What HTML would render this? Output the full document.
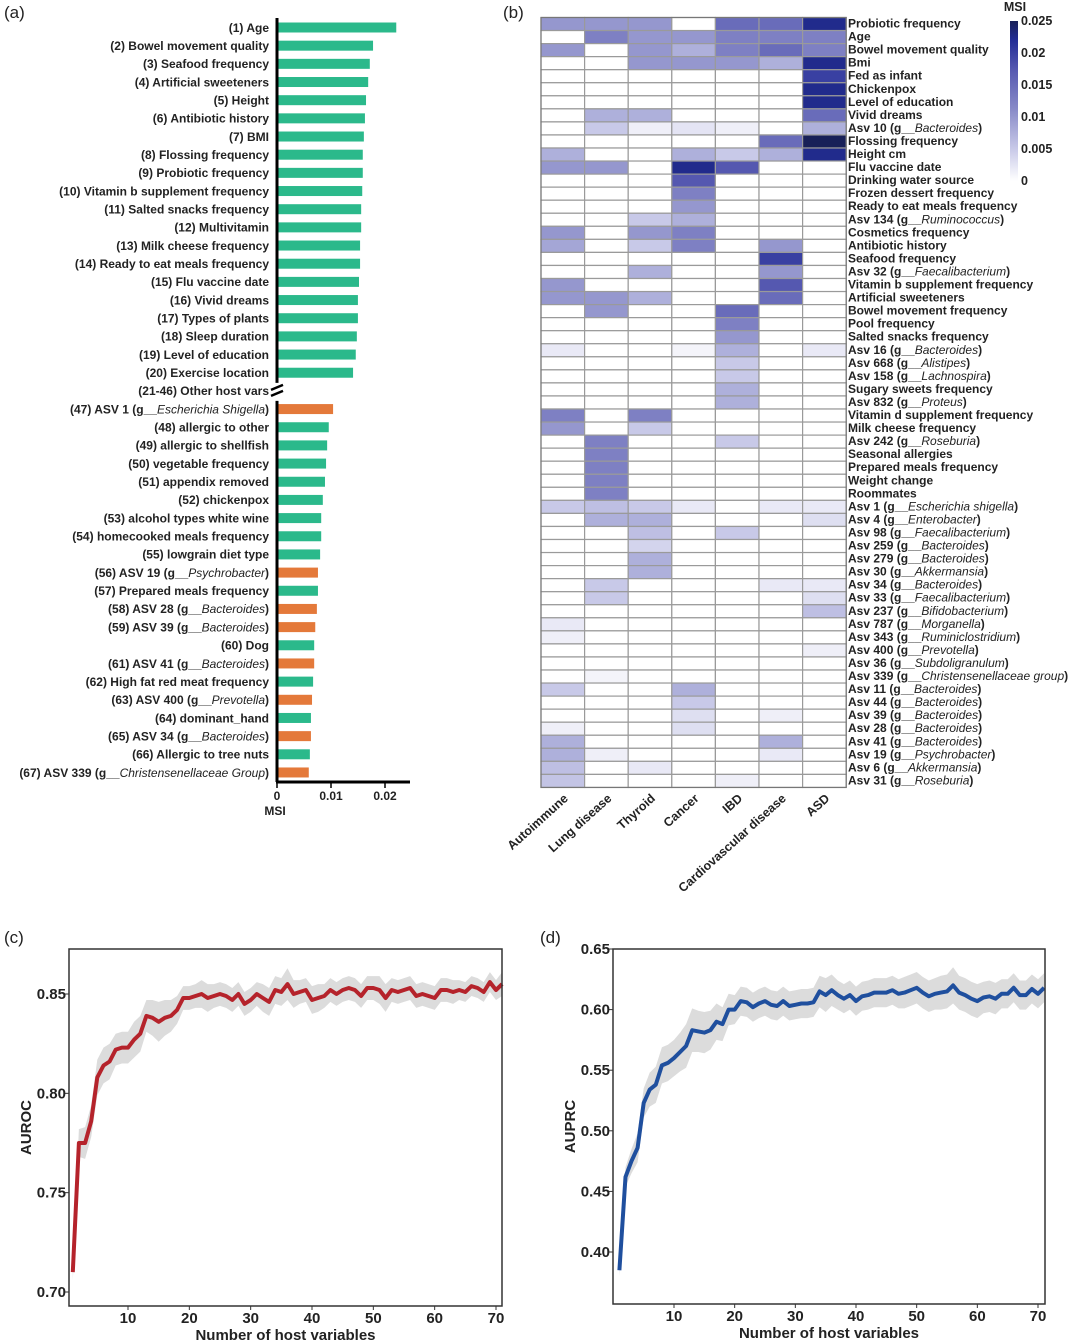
<!DOCTYPE html>
<html><head><meta charset="utf-8">
<style>
html,body{margin:0;padding:0;background:#fff;}
svg{display:block;font-family:"Liberation Sans",sans-serif;}
.lab{font-size:12px;font-weight:bold;fill:#222;}
.hl{font-size:12px;font-weight:bold;fill:#222;}
.cl{font-size:12.5px;font-weight:bold;fill:#222;}
.it{font-style:italic;font-weight:normal;}
.tk{font-size:15px;font-weight:bold;fill:#222;}
.pl{font-size:17px;fill:#222;}
</style></head>
<body>
<svg id="fig" width="1080" height="1341" viewBox="0 0 1080 1341" xmlns="http://www.w3.org/2000/svg">
<text class="pl" x="4" y="18">(a)</text>
<text class="pl" x="503" y="18">(b)</text>
<text class="pl" x="4" y="943">(c)</text>
<text class="pl" x="540" y="943">(d)</text>
<g id="pa"></g>
<g id="pb"></g>
<g id="pc"></g>
<g id="pd"></g>
</svg>
<script>
// ---------- Panel A data ----------
const barLabels = ["(1) Age","(2) Bowel movement quality","(3) Seafood frequency","(4) Artificial sweeteners","(5) Height","(6) Antibiotic history","(7) BMI","(8) Flossing frequency","(9) Probiotic frequency","(10) Vitamin b supplement frequency","(11) Salted snacks frequency","(12) Multivitamin","(13) Milk cheese frequency","(14) Ready to eat meals frequency","(15) Flu vaccine date","(16) Vivid dreams","(17) Types of plants","(18) Sleep duration","(19) Level of education","(20) Exercise location","(21-46) Other host vars","(47) ASV 1 (g__|Escherichia Shigella|)","(48) allergic to other","(49) allergic to shellfish","(50) vegetable frequency","(51) appendix removed","(52) chickenpox","(53) alcohol types white wine","(54) homecooked meals frequency","(55) lowgrain diet type","(56) ASV 19 (g__|Psychrobacter|)","(57) Prepared meals frequency","(58) ASV 28 (g__|Bacteroides|)","(59) ASV 39 (g__|Bacteroides|)","(60) Dog","(61) ASV 41 (g__|Bacteroides|)","(62) High fat red meat frequency","(63) ASV 400 (g__|Prevotella|)","(64) dominant_hand","(65) ASV 34 (g__|Bacteroides|)","(66) Allergic to tree nuts","(67) ASV 339 (g__|Christensenellaceae Group|)"];
const barValues = [0.0219,0.0176,0.0170,0.0167,0.0163,0.0161,0.0159,0.0157,0.0157,0.0156,0.0154,0.0154,0.0152,0.0152,0.0150,0.0148,0.0148,0.0146,0.0144,0.0139,null,0.0102,0.0094,0.0091,0.0089,0.0087,0.0083,0.0080,0.0080,0.0078,0.0074,0.0074,0.0072,0.0069,0.0067,0.0067,0.0065,0.0063,0.0061,0.0061,0.0059,0.0057];
const barTypes = ["h","h","h","h","h","h","h","h","h","h","h","h","h","h","h","h","h","h","h","h","x","m","h","h","h","h","h","h","h","h","m","h","m","m","h","m","h","m","h","m","h","m"];
const barTicks = [0,0.01,0.02];
const barTickLabels = ["0","0.01","0.02"];

// ---------- Panel B data ----------
const hmCols = ["Autoimmune","Lung disease","Thyroid","Cancer","IBD","Cardiovascular disease","ASD"];
const hmRows = ["Probiotic frequency","Age","Bowel movement quality","Bmi","Fed as infant","Chickenpox","Level of education","Vivid dreams","Asv 10 (g__|Bacteroides|)","Flossing frequency","Height cm","Flu vaccine date","Drinking water source","Frozen dessert frequency","Ready to eat meals frequency","Asv 134 (g__|Ruminococcus|)","Cosmetics frequency","Antibiotic history","Seafood frequency","Asv 32 (g__|Faecalibacterium|)","Vitamin b supplement frequency","Artificial sweeteners","Bowel movement frequency","Pool frequency","Salted snacks frequency","Asv 16 (g__|Bacteroides|)","Asv 668 (g__|Alistipes|)","Asv 158 (g__|Lachnospira|)","Sugary sweets frequency","Asv 832 (g__|Proteus|)","Vitamin d supplement frequency","Milk cheese frequency","Asv 242 (g__|Roseburia|)","Seasonal allergies","Prepared meals frequency","Weight change","Roommates","Asv 1 (g__|Escherichia shigella|)","Asv 4 (g__|Enterobacter|)","Asv 98 (g__|Faecalibacterium|)","Asv 259 (g__|Bacteroides|)","Asv 279 (g__|Bacteroides|)","Asv 30 (g__|Akkermansia|)","Asv 34 (g__|Bacteroides|)","Asv 33 (g__|Faecalibacterium|)","Asv 237 (g__|Bifidobacterium|)","Asv 787 (g__|Morganella|)","Asv 343 (g__|Ruminiclostridium|)","Asv 400 (g__|Prevotella|)","Asv 36 (g__|Subdoligranulum|)","Asv 339 (g__|Christensenellaceae group|)","Asv 11 (g__|Bacteroides|)","Asv 44 (g__|Bacteroides|)","Asv 39 (g__|Bacteroides|)","Asv 28 (g__|Bacteroides|)","Asv 41 (g__|Bacteroides|)","Asv 19 (g__|Psychrobacter|)","Asv 6 (g__|Akkermansia|)","Asv 31 (g__|Roseburia|)"];
const hmValues = [
[.010,.010,.010,0,.015,.015,.0225],[0,.0125,.010,.010,.0125,.0125,.0125],[.010,0,.010,.0075,.0125,.015,.0125],[0,0,.010,.010,.010,.0075,.0225],
[0,0,0,0,0,0,.020],[0,0,0,0,0,0,.0225],[0,0,0,0,0,0,.0225],[0,.0075,.0075,0,0,0,.015],[0,.005,.0015,.0025,.0015,0,.0075],
[0,0,0,0,0,.015,.025],[.0075,0,0,.0075,.005,.0075,.0225],[.010,.010,0,.0225,.0175,0,0],[0,0,0,.0175,0,0,0],[0,0,0,.0125,0,0,0],
[0,0,0,.010,0,0,0],[0,0,.005,.0075,0,0,0],[.010,0,.010,.0125,0,0,0],[.0085,0,.005,.0125,0,.010,0],[0,0,0,0,0,.020,0],
[0,0,.0075,0,0,.010,0],[.010,0,0,0,0,.0175,0],[.010,.010,.0075,0,0,.015,0],[0,.010,0,0,.015,0,0],[0,0,0,0,.0125,0,0],
[0,0,0,0,.010,0,0],[.002,0,0,.001,.0075,0,.002],[0,0,0,0,.005,0,0],[0,0,0,0,.005,0,0],[0,0,0,0,.0075,0,0],[0,0,0,0,.0075,0,0],
[.0125,0,.0125,0,0,0,0],[.010,0,.005,0,0,0,0],[0,.0125,0,0,.005,0,0],[0,.0125,0,0,0,0,0],[0,.0125,0,0,0,0,0],[0,.0125,0,0,0,0,0],[0,.0125,0,0,0,0,0],
[.005,.006,.005,.002,0,.002,.002],[0,.0075,.0075,0,0,0,.003],[0,0,.006,0,.005,0,0],[0,0,.004,0,0,0,0],[0,0,.0075,0,0,0,0],[0,0,.0075,0,0,0,0],
[0,.005,0,0,0,.002,.002],[0,.005,0,0,0,0,.003],[0,0,0,0,0,0,.006],[.002,0,0,0,0,0,0],[.0015,0,0,0,0,0,0],[0,0,0,0,0,0,.0015],
[0,0,0,0,0,0,0],[0,.001,0,0,0,0,0],[.005,0,0,.0075,0,0,0],[0,0,0,.005,0,0,0],[0,0,0,.003,0,.0015,0],[.0015,0,0,.003,0,0,0],
[.0075,0,0,0,0,.0075,0],[.0075,.0015,0,0,0,.002,0],[.006,0,.002,0,0,0,0],[.0055,0,0,0,.0015,0,0]];
const cbTicks = [0,0.005,0.01,0.015,0.02,0.025];
const cbTickLabels = ["0","0.005","0.01","0.015","0.02","0.025"];

// ---------- Panel C / D data ----------
const nVars = Array.from({length:71},(_,i)=>i+1);
const aurocMean = [.710,.775,.775,.786,.808,.814,.816,.822,.823,.823,.827,.830,.839,.838,.836,.838,.839,.842,.848,.848,.849,.850,.848,.849,.850,.849,.847,.850,.845,.847,.850,.848,.846,.852,.851,.855,.850,.851,.852,.847,.848,.849,.852,.850,.852,.853,.852,.849,.853,.853,.852,.848,.852,.851,.852,.853,.849,.850,.849,.848,.852,.852,.851,.852,.851,.854,.853,.851,.856,.852,.855];
const aurocSd = [.004,.007,.008,.008,.009,.009,.009,.008,.008,.008,.009,.009,.008,.009,.010,.009,.008,.007,.006,.006,.006,.007,.007,.006,.006,.006,.006,.006,.006,.006,.006,.007,.007,.007,.007,.008,.007,.006,.006,.007,.007,.006,.006,.006,.006,.006,.006,.006,.006,.006,.007,.007,.006,.006,.006,.006,.006,.006,.006,.006,.006,.006,.006,.005,.005,.005,.005,.005,.005,.005,.006];
const aurocTicks = [0.70,0.75,0.80,0.85];
const aurocTickLabels = ["0.70","0.75","0.80","0.85"];
const auprcMean = [.385,.462,.475,.486,.523,.534,.538,.554,.556,.560,.565,.570,.583,.582,.581,.583,.590,.588,.600,.600,.607,.606,.602,.605,.607,.604,.603,.607,.603,.604,.605,.605,.606,.615,.612,.616,.612,.609,.612,.607,.611,.612,.614,.614,.614,.616,.613,.614,.616,.618,.614,.611,.613,.614,.615,.620,.614,.612,.609,.607,.610,.611,.609,.613,.613,.618,.612,.612,.617,.613,.618];
const auprcSd = [.005,.008,.010,.012,.012,.014,.015,.015,.015,.015,.016,.018,.018,.017,.017,.016,.015,.014,.013,.012,.012,.012,.012,.012,.012,.012,.012,.012,.012,.012,.012,.012,.012,.013,.014,.013,.012,.012,.012,.012,.012,.012,.012,.012,.012,.012,.012,.013,.013,.013,.013,.013,.013,.014,.014,.015,.014,.014,.014,.014,.013,.013,.013,.012,.012,.012,.012,.012,.012,.012,.012];
const auprcTicks = [0.40,0.45,0.50,0.55,0.60,0.65];
const auprcTickLabels = ["0.40","0.45","0.50","0.55","0.60","0.65"];
const xTicks = [10,20,30,40,50,60,70];
const xTickLabels = ["10","20","30","40","50","60","70"];

const NS="http://www.w3.org/2000/svg";
function mk(parent,tag,attrs){const e=document.createElementNS(NS,tag);for(const k in attrs)e.setAttribute(k,attrs[k]);parent.appendChild(e);return e;}
function richText(el,str){
  const parts=str.split("|");
  parts.forEach((p,i)=>{const t=document.createElementNS(NS,"tspan");t.textContent=p;if(i%2===1)t.setAttribute("class","it");el.appendChild(t);});
}

// ---------- Panel A ----------
(function(){
  const g=document.getElementById("pa");
  const x0=278, pxPer=5400, y0=27.5, step=18.17;
  const xs=v=>x0+v*pxPer, ys=i=>y0+i*step;
  barLabels.forEach((lab,i)=>{
    const t=mk(g,"text",{x:269,y:ys(i)+4.3,"text-anchor":"end",class:"lab"});
    
    
    richText(t,lab);
    if(barValues[i]!==null){
      const r=mk(g,"rect",{x:x0,y:ys(i)-5,width:xs(barValues[i])-x0,height:10,fill:barTypes[i]==="m"?"#e4793a":"#2bb98b"});
      
      
    }
  });
  const bi=20;
  const ax1=mk(g,"line",{x1:277,y1:18,x2:277,y2:ys(bi)-8,stroke:"#000","stroke-width":3});
  
  
  const ax2=mk(g,"line",{x1:277,y1:ys(bi)+10,x2:277,y2:782,stroke:"#000","stroke-width":3});
  
  
  const br=mk(g,"path",{d:`M271 ${ys(bi)-1} L283 ${ys(bi)-6} M271 ${ys(bi)+5} L283 ${ys(bi)}`,stroke:"#000","stroke-width":2.5,fill:"none"});
  
  
  const xa=mk(g,"line",{x1:276,y1:782,x2:410,y2:782,stroke:"#000","stroke-width":3});
  
  
  barTicks.forEach((v,i)=>{
    const l=mk(g,"line",{x1:xs(v)-1,y1:782,x2:xs(v)-1,y2:788,stroke:"#000","stroke-width":1.5});
    
    
    const t=mk(g,"text",{x:xs(v)-1,y:800,"text-anchor":"middle",class:"lab"});
    
    
    t.textContent=barTickLabels[i];
  });
  const ti=mk(g,"text",{x:275,y:815,"text-anchor":"middle",class:"lab"});
  
  
  ti.textContent="MSI";
})();

// ---------- Panel B ----------
function cmap(v){
  const t=Math.max(0,Math.min(1,v/0.025));
  const stops=[[0,[255,255,255]],[0.2,[200,201,232]],[0.45,[136,138,200]],[0.7,[85,88,176]],[0.88,[35,45,150]],[1,[24,32,88]]];
  for(let i=1;i<stops.length;i++){if(t<=stops[i][0]){const a=stops[i-1],b=stops[i];const f=(t-a[0])/(b[0]-a[0]);const c=a[1].map((x,k)=>Math.round(x+(b[1][k]-x)*f));return `rgb(${c})`;}}
  return "rgb(24,32,88)";
}
(function(){
  const g=document.getElementById("pb");
  const x0=541, cw=43.6, y0=17.5, rh=13.05;
  const xs=j=>x0+j*cw, ys=i=>y0+i*rh;
  hmValues.forEach((row,i)=>row.forEach((v,j)=>{
    const r=mk(g,"rect",{x:xs(j),y:ys(i),width:cw,height:rh,fill:cmap(v),stroke:"#9a9a9a","stroke-width":1.2});
    
    
  }));
  const bd=mk(g,"rect",{x:x0,y:y0,width:cw*7,height:rh*hmRows.length,fill:"none",stroke:"#777","stroke-width":1.2});
  
  
  hmRows.forEach((lab,i)=>{
    const t=mk(g,"text",{x:848,y:ys(i)+10,class:"hl"});
    
    
    richText(t,lab);
  });
  hmCols.forEach((lab,j)=>{
    const cx=xs(j)+cw/2+6, cy=y0+rh*hmRows.length+12;
    const t=mk(g,"text",{x:cx,y:cy,"text-anchor":"end",class:"cl",transform:`rotate(-42 ${cx} ${cy})`});
    
    
    t.textContent=lab;
  });
  const defs=mk(g,"defs",{});
  const lg=mk(defs,"linearGradient",{id:"cbg",x1:0,y1:1,x2:0,y2:0});
  [0,0.2,0.45,0.7,0.88,1].forEach(s=>mk(lg,"stop",{offset:s,"stop-color":cmap(s*0.025)}));
  const cbTop=21, cbBot=181, cbx=1010;
  const cby=v=>cbBot-(v/0.025)*(cbBot-cbTop);
  const cb=mk(g,"rect",{x:cbx,y:cbTop,width:8,height:cbBot-cbTop,fill:"url(#cbg)"});
  
  
  cbTicks.forEach((v,i)=>{
    const t=mk(g,"text",{x:1021,y:cby(v)+4,class:"cl"});
    
    
    t.textContent=cbTickLabels[i];
  });
  const ct=mk(g,"text",{x:1015,y:11,"text-anchor":"middle",class:"cl"});
  
  
  ct.textContent="MSI";
})();

// ---------- Line charts ----------
function lineChart(gid,box,yDom,yTicks,yTickLabels,mean,sd,color,yTitle,xPix10,xPix70){
  const g=document.getElementById(gid);
  const xs=v=>xPix10+(v-10)*(xPix70-xPix10)/60;
  const ys=v=>box.yb-(v-yDom[0])/(yDom[1]-yDom[0])*(box.yb-box.yt);
  let up="",lo="";
  nVars.forEach((n,i)=>{up+=(i?"L":"M")+xs(n).toFixed(1)+" "+ys(mean[i]+sd[i]).toFixed(1);});
  for(let i=nVars.length-1;i>=0;i--){lo+="L"+xs(nVars[i]).toFixed(1)+" "+ys(mean[i]-sd[i]).toFixed(1);}
  const band=mk(g,"path",{d:up+lo+"Z",fill:"#dcdcdc"});
  
  
  let d="";
  nVars.forEach((n,i)=>{d+=(i?"L":"M")+xs(n).toFixed(1)+" "+ys(mean[i]).toFixed(1);});
  const ln=mk(g,"path",{d:d,fill:"none",stroke:color,"stroke-width":4,"stroke-linejoin":"round"});
  
  
  const fr=mk(g,"rect",{x:box.xl,y:box.yt,width:box.xr-box.xl,height:box.yb-box.yt,fill:"none",stroke:"#333","stroke-width":1.5});
  
  
  yTicks.forEach((v,i)=>{
    const l=mk(g,"line",{x1:box.xl-4,y1:ys(v),x2:box.xl,y2:ys(v),stroke:"#333"});
    
    
    const t=mk(g,"text",{x:box.xl-3,y:ys(v)+5,"text-anchor":"end",class:"tk"});
    
    
    t.textContent=yTickLabels[i];
  });
  xTicks.forEach((v,i)=>{
    const l=mk(g,"line",{x1:xs(v),y1:box.yb,x2:xs(v),y2:box.yb+4,stroke:"#333"});
    
    
    const t=mk(g,"text",{x:xs(v),y:box.yb+17,"text-anchor":"middle",class:"tk"});
    
    
    t.textContent=xTickLabels[i];
  });
  const xt=mk(g,"text",{x:(box.xl+box.xr)/2,y:box.yb+34,"text-anchor":"middle",class:"tk"});
  
  
  xt.textContent="Number of host variables";
  const yx=box.xl-38, yy=(box.yt+box.yb)/2;
  const yt=mk(g,"text",{x:yx,y:yy,"text-anchor":"middle",class:"tk",transform:`rotate(-90 ${yx} ${yy})`});
  
  
  yt.textContent=yTitle;
}
(function(){
  const per=(1292-994)/0.15;
  const lo=0.70-(1306-1292)/per, hi=0.85+(994-949)/per;
  lineChart("pc",{xl:69,xr:502,yt:949,yb:1306},[lo,hi],aurocTicks,aurocTickLabels,aurocMean,aurocSd,"#b5232b","AUROC",128,496);
})();
lineChart("pd",{xl:613,xr:1045,yt:949,yb:1304},[0.65-(0.25/303)*355,0.65],auprcTicks,auprcTickLabels,auprcMean,auprcSd,"#1f4f9e","AUPRC",674,1038);
</script>
</body></html>
